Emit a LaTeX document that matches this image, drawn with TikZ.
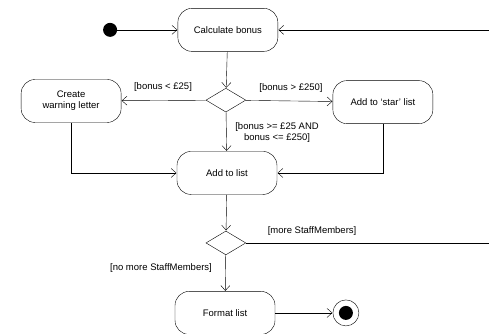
\documentclass[tikz,border=0pt]{standalone}
\usepackage{fontspec}
\setmainfont{Liberation Sans}
\usetikzlibrary{arrows.meta,shapes.geometric}

\begin{document}
\begin{tikzpicture}
\tikzset{ >={Straight Barb[length=5pt,width=9pt]}, line width=0.7pt,
  act/.style={draw, rounded corners=14pt, minimum width=100pt, minimum height=43pt, align=center, font=\fontsize{9.5}{11}\selectfont},
  choice/.style={draw, diamond, minimum width=40pt, minimum height=24pt, inner sep=0pt},
  guard/.style={font=\fontsize{9.5}{11}\selectfont, align=center},
}

\useasboundingbox (0,0) rectangle (17.19,11.74);

\node [fill=black, circle, minimum size=14pt, inner sep=0pt] (S) at (3.87,10.69) {};
\node [act] (calc) at (8.01,10.69) {Calculate bonus};
\node [choice] (D1) at (7.94,8.22) {};
\node [act] (warn) at (2.50,8.19) {Create\\warning letter};
\node [act] (star) at (13.46,8.15) {Add to `star' list};
\node [act] (add) at (7.98,5.66) {Add to list};
\node [choice] (D2) at (7.94,3.20) {};
\node [act] (fmt) at (7.91,0.74) {Format list};
\node [draw, circle, minimum size=26pt, inner sep=0pt] (E) at (12.16,0.74) {};
\fill (E.center) circle (7pt);

\coordinate (back) at (17.8,3.20);

\draw [->] (S) -- (calc);
\draw [->] (calc) -- (D1);
\draw [->] (D1) -- (warn);
\draw [->] (D1) -- (star);
\draw [->] (D1) -- (add);
\draw [->] (warn) |- (add);
\draw [->] (star) |- (add);
\draw [->] (add) -- (D2);
\draw [->] (D2) -- (fmt);
\draw [->] (fmt) -- (E);
\draw [->] (D2) -- (back) |- (calc);

\node [guard] at (5.73,8.68) {[bonus < £25]};
\node [guard] at (10.23,8.65) {[bonus > £250]};
\node [guard] at (9.74,7.07) {[bonus >= £25 AND\\bonus <= £250]};
\node [guard] at (10.97,3.62) {[more StaffMembers]};
\node [guard] at (5.66,2.32) {[no more StaffMembers]};
\end{tikzpicture}
\end{document}
